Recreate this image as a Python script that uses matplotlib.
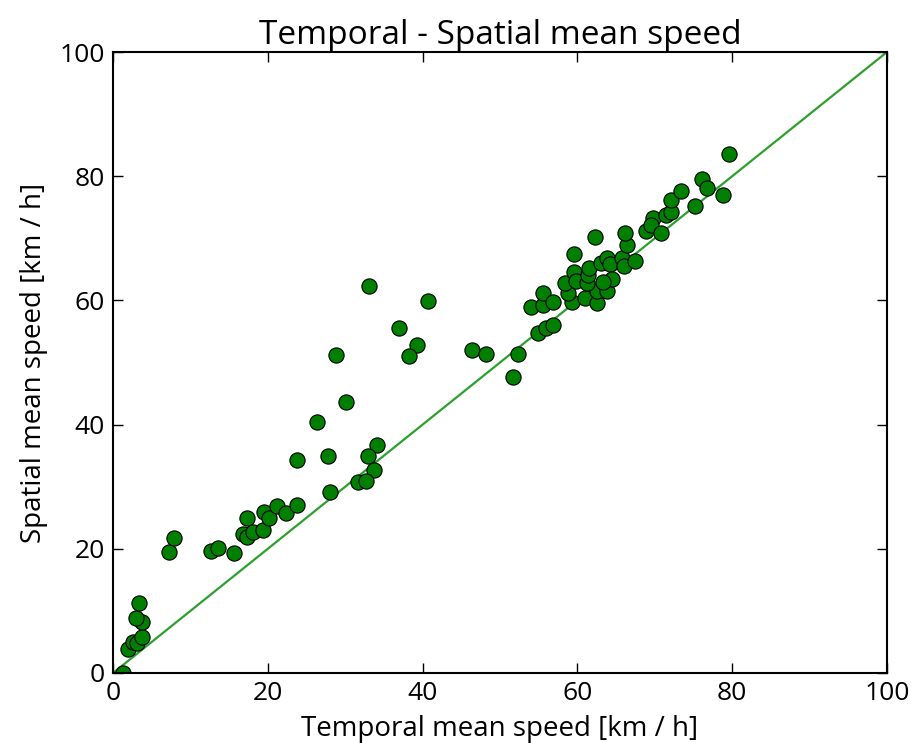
import matplotlib
matplotlib.use("Agg")
import matplotlib.pyplot as plt

plt.rcParams['font.family'] = ['Open Sans', 'DejaVu Sans']

temporal = [1.3, 1.9, 2.6, 3.1, 3.7, 3.7, 3.0, 3.4,
            7.2, 7.9, 12.7, 13.6, 15.6, 16.8, 17.3, 17.3, 18.1, 19.4, 19.5, 20.2,
            21.2, 22.4, 23.8, 23.8,
            33.1, 40.7, 37.0, 39.3, 38.2, 28.8, 46.4, 48.2, 30.1, 26.4, 27.8,
            34.1, 32.9, 33.7, 31.7, 32.7, 28.0,
            52.3, 51.7, 54.9, 55.9, 56.8, 54.0, 55.6, 55.6, 56.8, 59.3, 58.8,
            58.4, 59.6, 59.8, 59.6, 61.0, 62.5, 62.5, 61.2, 61.4, 61.5, 62.3,
            63.0, 63.8, 64.2, 63.8, 64.5, 63.3, 65.8, 66.0, 67.4, 66.4, 66.1,
            68.9, 69.8, 69.5, 70.8, 71.4, 72.1, 72.1, 73.4, 75.2, 76.1, 76.7,
            78.8, 79.6]
spatial = [0.0, 3.9, 5.0, 4.8, 5.8, 8.2, 8.9, 11.2,
           19.5, 21.7, 19.7, 20.1, 19.3, 22.4, 21.9, 25.0, 22.7, 23.0, 25.9, 25.0,
           26.9, 25.8, 27.0, 34.3,
           62.3, 59.9, 55.6, 52.8, 51.0, 51.2, 52.0, 51.3, 43.6, 40.4, 34.9,
           36.7, 34.9, 32.7, 30.8, 30.9, 29.1,
           51.4, 47.7, 54.8, 55.6, 56.0, 58.9, 59.3, 61.2, 59.7, 59.7, 61.2,
           62.8, 64.6, 63.1, 67.5, 60.4, 59.6, 61.5, 62.8, 64.1, 65.2, 70.2,
           66.0, 66.8, 65.9, 61.5, 63.4, 63.0, 66.8, 65.5, 66.3, 68.9, 70.9,
           71.2, 73.3, 72.1, 70.9, 73.8, 74.2, 76.2, 77.6, 75.2, 79.5, 78.1,
           77.0, 83.6]
diag = [0, 100]
ticks = [0, 20, 40, 60, 80, 100]

fig = plt.figure(figsize=(9.11, 7.43), dpi=100)
ax = fig.add_axes([113/911, 70/743, 774/911, 621/743])
ax.plot(diag, diag, color='#2ca02c', lw=1.6, zorder=1)
ax.scatter(temporal, spatial, s=120, c='#007f00', edgecolors='black',
           linewidths=0.8, zorder=2, clip_on=True)
ax.set_xlim(0, 100)
ax.set_ylim(0, 100)
ax.set_xticks(ticks)
ax.set_yticks(ticks)
ax.tick_params(direction='in', length=7, width=1, top=True, right=True,
               labelsize=19, pad=6)
for s in ax.spines.values():
    s.set_linewidth(1.5)
ax.set_title('Temporal - Spatial mean speed', fontsize=24, pad=6)
ax.set_xlabel('Temporal mean speed [km / h]', fontsize=20, labelpad=6)
ax.set_ylabel('Spatial mean speed [km / h]', fontsize=20, labelpad=8)
fig.savefig('out.png', dpi=100)
